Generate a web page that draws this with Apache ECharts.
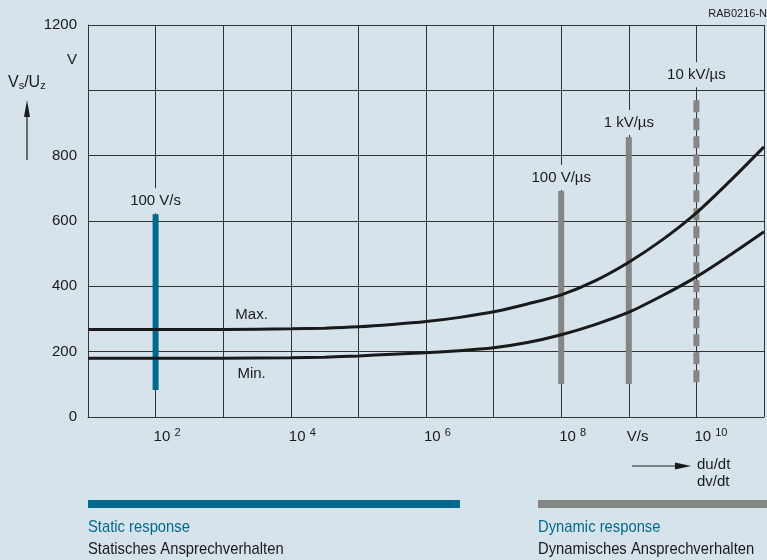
<!DOCTYPE html>
<html>
<head>
<meta charset="utf-8">
<script src="https://cdn.jsdelivr.net/npm/echarts@6/dist/echarts.min.js"></script>
<style>
  html, body { margin: 0; padding: 0; background: #d7e3eb; }
  #chart { width: 767px; height: 560px; }
</style>
</head>
<body>
<div id="chart"></div>
<script>
// rate of rise (V/s) -> sparkover voltage (V)
var rates = [1e1, 1e2, 1e3, 1e4, 3.16e4, 1e5, 3.16e5, 1e6, 3.16e6, 1e7, 3.16e7,
             1e8, 3.16e8, 1e9, 3.16e9, 1e10, 3.16e10, 1e11];
var maxVolt = [268, 268, 268, 270, 272, 276, 283, 292, 305, 322, 346,
               374, 417, 474, 543, 625, 723, 827];
var minVolt = [180, 180, 180, 181, 183, 187, 192, 197, 203, 212, 228,
               252, 283, 321, 372, 429, 496, 567];

// test rates shown as vertical bars
var barRates = [1e2, 1e8, 1e9, 1e10];
var barTop = [621, 692, 857, 970];
var barBottom = [83, 101, 101, 101];
var barNames = ['100 V/s', '100 V/µs', '1 kV/µs', '10 kV/µs'];

var bg = '#d7e3eb';
var blue = '#006a8e';
var grey = '#858585';
var ink = '#1a1a1a';
var font = '"Liberation Sans", Arial, sans-serif';

var chart = echarts.init(document.getElementById('chart'), null, {renderer: 'canvas'});

function pairs(xs, ys) {
    var out = [];
    for (var i = 0; i < xs.length; i++) out.push([xs[i], ys[i]]);
    return out;
}

var series = [
    {
        name: 'Max', type: 'line', smooth: 0.3, symbol: 'none',
        data: pairs(rates, maxVolt), z: 5,
        lineStyle: {color: ink, width: 3},
        markPoint: {
            symbol: 'circle', symbolSize: 0, silent: true,
            label: {show: true, position: 'inside', color: ink, fontSize: 15, fontFamily: font, formatter: 'Max.'},
            data: [{coord: [2630, 312]}]
        }
    },
    {
        name: 'Min', type: 'line', smooth: 0.3, symbol: 'none',
        data: pairs(rates, minVolt), z: 5,
        lineStyle: {color: ink, width: 3},
        markPoint: {
            symbol: 'circle', symbolSize: 0, silent: true,
            label: {show: true, position: 'inside', color: ink, fontSize: 15, fontFamily: font, formatter: 'Min.'},
            data: [{coord: [2630, 132]}]
        }
    }
];

var labelGap = [1, 1, 2, 13];
barRates.forEach(function (r, i) {
    var col = i === 0 ? blue : grey;
    series.push({
        name: barNames[i], type: 'line', symbol: 'circle', symbolSize: 0, showSymbol: true, z: 4,
        itemStyle: {color: col},
        lineStyle: {color: col, width: 6, type: i === 3 ? [12, 6] : 'solid', cap: 'butt'},
        data: [
            {value: [r, barTop[i]], label: {
                show: true, position: 'top', distance: labelGap[i], formatter: barNames[i],
                color: ink, fontSize: 15, fontFamily: font,
                backgroundColor: bg, padding: [5, 3, 5, 3]
            }},
            {value: [r, barBottom[i]], label: {show: false}}
        ]
    });
});

function narrowText(x, y, text, color) {
    return {type: 'text', x: x, y: y, scaleX: 0.87,
        style: {text: text, fontSize: 17, fontFamily: font, fill: color, verticalAlign: 'middle'}};
}

chart.setOption({
    backgroundColor: bg,
    animation: false,
    grid: {left: 88, right: 0, top: 25, bottom: 143},
    xAxis: {
        type: 'log', logBase: 10, min: 10, max: 1e11, interval: 1,
        axisLine: {lineStyle: {color: '#333', width: 1}},
        axisTick: {show: false},
        splitLine: {show: true, lineStyle: {color: '#333', width: 1}},
        axisLabel: {
            margin: 10, align: 'left', padding: [0, 0, 0, -2],
            formatter: function (v) {
                var e = Math.round(Math.log10(v));
                if (e === 9) return '{b|V/s}';
                if (e % 2 === 0 && e >= 2 && e <= 10) return '{b|10 }{s|' + e + '}';
                return '';
            },
            rich: {
                b: {fontSize: 15, fontFamily: font, color: ink, lineHeight: 20},
                s: {fontSize: 11, fontFamily: font, color: ink, lineHeight: 20, padding: [0, 0, 9, 0]}
            }
        }
    },
    yAxis: {
        type: 'value', min: 0, max: 1200, interval: 200,
        axisLine: {show: true, lineStyle: {color: '#333', width: 1}},
        axisTick: {show: false},
        splitLine: {show: true, lineStyle: {color: '#333', width: 1}},
        axisLabel: {
            margin: 11, fontSize: 15, fontFamily: font, color: ink,
            formatter: function (v) { return v === 1000 ? '' : String(v); }
        }
    },
    graphic: [
        {type: 'text', right: 0, top: 8, style: {text: 'RAB0216-N', fontSize: 11, fontFamily: font, fill: ink}},
        {type: 'text', x: 77, y: 60, style: {text: 'V', fontSize: 15, fontFamily: font, fill: ink, align: 'right', verticalAlign: 'middle'}},
        {type: 'text', x: 8, y: 83, style: {
            text: '{b|V}{s|s}{b|/U}{s|z}', verticalAlign: 'middle',
            rich: {
                b: {fontSize: 16, fontFamily: font, fill: ink},
                s: {fontSize: 11, fontFamily: font, fill: ink, padding: [6, 0, 0, 0]}
            }
        }},
        {type: 'line', shape: {x1: 27, y1: 160, x2: 27, y2: 112}, style: {stroke: ink, lineWidth: 1.2}},
        {type: 'polygon', shape: {points: [[27, 100], [24, 117], [30, 117]]}, style: {fill: ink}},
        {type: 'line', shape: {x1: 632, y1: 466, x2: 678, y2: 466}, style: {stroke: ink, lineWidth: 1.2}},
        {type: 'polygon', shape: {points: [[691, 466], [675, 462.5], [675, 469.5]]}, style: {fill: ink}},
        {type: 'text', x: 697, y: 465, style: {text: 'du/dt', fontSize: 15, fontFamily: font, fill: ink, verticalAlign: 'middle'}},
        {type: 'text', x: 697, y: 482, style: {text: 'dv/dt', fontSize: 15, fontFamily: font, fill: ink, verticalAlign: 'middle'}},
        {type: 'rect', shape: {x: 88, y: 500, width: 372, height: 8}, style: {fill: blue}},
        {type: 'rect', shape: {x: 538, y: 500, width: 229, height: 8}, style: {fill: grey}},
        narrowText(88, 527, 'Static response', blue),
        narrowText(88, 549, 'Statisches Ansprechverhalten', ink),
        narrowText(538, 527, 'Dynamic response', blue),
        narrowText(538, 549, 'Dynamisches Ansprechverhalten', ink)
    ],
    series: series
});
</script>
</body>
</html>
